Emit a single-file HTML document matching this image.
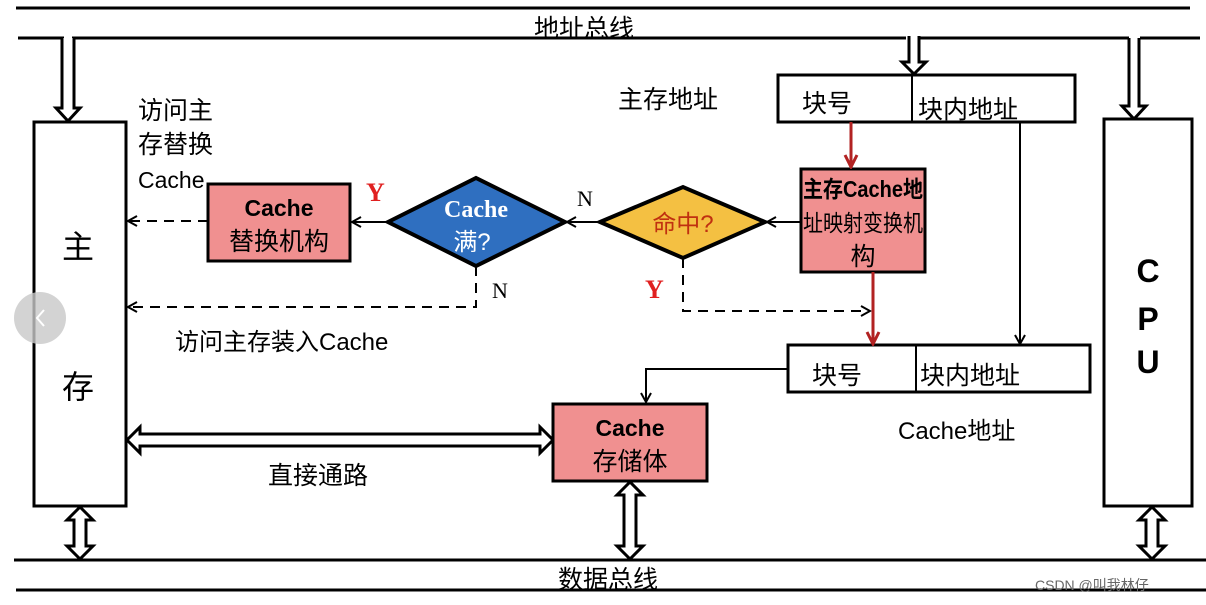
<!DOCTYPE html>
<html><head><meta charset="utf-8"><style>
html,body{margin:0;padding:0;background:#fff;width:1206px;height:605px;overflow:hidden}
svg text{font-family:"Liberation Sans","Noto Sans CJK SC",sans-serif}
svg text.sf{font-family:"Liberation Serif","Noto Serif CJK SC",serif}
</style></head><body>
<svg width="1206" height="605" viewBox="0 0 1206 605" xmlns="http://www.w3.org/2000/svg">
<defs>
<marker id="a" markerWidth="12" markerHeight="12" refX="10" refY="6" orient="auto" markerUnits="userSpaceOnUse"><path d="M1,1 L10,6 L1,11" fill="none" stroke="#000" stroke-width="2"/></marker>
<marker id="r" markerWidth="16" markerHeight="16" refX="14" refY="8" orient="auto" markerUnits="userSpaceOnUse"><path d="M2,2 L14,8 L2,14" fill="none" stroke="#b22222" stroke-width="3"/></marker>
</defs>
<g stroke="#000" stroke-width="3" fill="none">
<line x1="16" y1="8" x2="1190" y2="8"/>
<line x1="18" y1="38" x2="64" y2="38"/>
<line x1="72" y1="38" x2="906" y2="38"/>
<line x1="920" y1="38" x2="1129" y2="38"/>
<line x1="1140" y1="38" x2="1200" y2="38"/>
<line x1="14" y1="560" x2="1206" y2="560"/>
<line x1="16" y1="590" x2="1206" y2="590"/>
</g>
<g stroke="#000" stroke-width="3" fill="#fff">
<path d="M62,38 L62,108 L56,108 L68,121 L80,108 L74,108 L74,38"/>
<path d="M909,36 L909,62 L902,62 L914,74 L926,62 L919,62 L919,36"/>
<path d="M1129,38 L1129,106 L1122,106 L1134,119 L1146,106 L1139,106 L1139,38"/>
<path d="M74,520 L67,520 L80,507 L93,520 L86,520 L86,546 L93,546 L80,559 L67,546 L74,546 Z"/>
<path d="M624,495 L617,495 L630,482 L643,495 L636,495 L636,546 L643,546 L630,559 L617,546 L624,546 Z"/>
<path d="M1146,520 L1139,520 L1152,507 L1165,520 L1158,520 L1158,546 L1165,546 L1152,559 L1139,546 L1146,546 Z"/>
<path d="M140,434 L140,427 L127,440 L140,453 L140,446 L540,446 L540,453 L553,440 L540,427 L540,434 Z"/>
</g>
<g stroke="#000" stroke-width="3" fill="#fff">
<rect x="34" y="122" width="92" height="384"/>
<rect x="1104" y="119" width="88" height="387"/>
<rect x="778" y="75" width="297" height="47"/>
<rect x="788" y="345" width="302" height="47"/>
</g>
<g stroke="#000" stroke-width="2"><line x1="912" y1="75" x2="912" y2="122"/><line x1="916" y1="345" x2="916" y2="392"/></g>
<rect x="801" y="169" width="124" height="103" fill="#f09090" stroke="#000" stroke-width="3"/>
<rect x="208" y="184" width="142" height="77" fill="#f09090" stroke="#000" stroke-width="3"/>
<rect x="553" y="404" width="154" height="77" fill="#f09090" stroke="#000" stroke-width="3"/>
<polygon points="600,222 683,187 765,222 683,258" fill="#f4c042" stroke="#000" stroke-width="4"/>
<polygon points="388,222 476,178 565,222 476,266" fill="#2f6fc0" stroke="#000" stroke-width="4"/>
<g stroke="#000" stroke-width="2" fill="none">
<line x1="1020" y1="122" x2="1020" y2="344" marker-end="url(#a)"/>
<line x1="801" y1="222" x2="767" y2="222" marker-end="url(#a)"/>
<line x1="600" y1="222" x2="567" y2="222" marker-end="url(#a)"/>
<line x1="388" y1="222" x2="352" y2="222" marker-end="url(#a)"/>
<polyline points="788,369 646,369 646,402" marker-end="url(#a)"/>
<g stroke-dasharray="10,7">
<line x1="208" y1="221" x2="128" y2="221" marker-end="url(#a)"/>
<polyline points="476,266 476,307 128,307" marker-end="url(#a)"/>
<polyline points="683,258 683,311 870,311" marker-end="url(#a)"/>
</g>
</g>
<g stroke="#b22222" stroke-width="3" fill="none">
<line x1="851" y1="122" x2="851" y2="167" marker-end="url(#r)"/>
<line x1="873" y1="272" x2="873" y2="344" marker-end="url(#r)"/>
</g>
<circle cx="40" cy="318" r="26" fill="#c8c8c8" opacity="0.8"/>
<path d="M44,310 L37,318 L44,326" stroke="#fff" stroke-width="2" fill="none"/>
<g font-size="25" fill="#000">
<text x="534" y="37">地址总线</text>
<text x="558" y="588">数据总线</text>
<text x="618" y="108">主存地址</text>
<text x="802" y="112">块号</text>
<text x="918" y="118">块内地址</text>
<text x="812" y="384">块号</text>
<text x="920" y="384">块内地址</text>
<text x="898" y="439" font-size="24">Cache地址</text>
<text x="268" y="484">直接通路</text>
<text x="175" y="350" font-size="24">访问主存装入Cache</text>
<text x="138" y="119">访问主</text>
<text x="138" y="153">存替换</text>
<text x="138" y="188" font-size="23">Cache</text>
</g>
<g font-size="22"><text class="sf" x="492" y="298">N</text><text class="sf" x="577" y="206">N</text></g>
<g font-size="32"><text x="62" y="258">主</text><text x="62" y="398">存</text></g>
<g font-size="32" font-weight="bold" text-anchor="middle"><text x="1148" y="282">C</text><text x="1148" y="330">P</text><text x="1148" y="373">U</text></g>
<g font-size="26" font-weight="bold" fill="#e02020"><text class="sf" x="366" y="201">Y</text><text class="sf" x="645" y="298">Y</text></g>
<g font-size="23" text-anchor="middle" fill="#000">
<text x="279" y="216" font-weight="bold">Cache</text><text x="279" y="250" font-size="25">替换机构</text>
<text x="630" y="436" font-weight="bold">Cache</text><text x="630" y="470" font-size="25">存储体</text>
<text x="863" y="197" font-size="23" font-weight="bold" textLength="120" lengthAdjust="spacingAndGlyphs">主存Cache地</text>
<text x="863" y="231" font-size="23" textLength="120" lengthAdjust="spacingAndGlyphs">址映射变换机</text>
<text x="863" y="265" font-size="25">构</text>
</g>
<g font-size="24" fill="#fff" text-anchor="middle"><text class="sf" x="476" y="217" font-weight="bold">Cache</text><text x="472" y="250">满?</text></g>
<text x="683" y="232" font-size="24" fill="#c03010" text-anchor="middle">命中?</text>
<text x="1035" y="590" font-size="14" fill="#666">CSDN @叫我林仔</text>
</svg>
</body></html>
